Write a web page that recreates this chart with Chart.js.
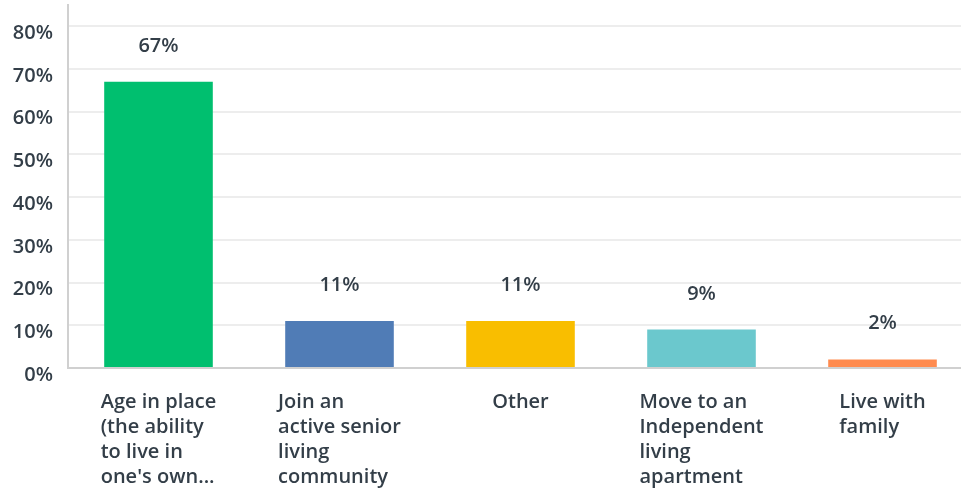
<!DOCTYPE html>
<html><head><meta charset="utf-8">
<script src="https://cdn.jsdelivr.net/npm/chart.js@4/dist/chart.umd.min.js"></script>
<style>
html,body{margin:0;padding:0;background:#fff;overflow:hidden;width:961px;height:495px}
#wrap{position:relative;width:973px;height:495px}
</style></head>
<body>
<div id="wrap"><canvas id="c"></canvas></div>
<script>
const categories = [
  ["Age in place", "(the ability", "to live in", "one's own..."],
  ["Join an", "active senior", "living", "community"],
  ["Other"],
  ["Move to an", "Independent", "living", "apartment"],
  ["Live with", "family"]
];
const values = [67, 11, 11, 9, 2];
const valueLabels = ["67%", "11%", "11%", "9%", "2%"];
const barColors = ["#00BF6F", "#507CB6", "#F9BE00", "#6BC8CD", "#FF8B4F"];
const yTicks = [0, 10, 20, 30, 40, 50, 60, 70, 80];

const TEXT = "#333E48";
const FONT = "'Open Sans', sans-serif";

const labelsPlugin = {
  id: 'customLabels',
  afterDatasetsDraw(chart) {
    const ctx = chart.ctx;
    const meta = chart.getDatasetMeta(0);
    const xs = chart.scales.x;
    ctx.save();
    ctx.fillStyle = TEXT;
    ctx.font = "600 20px " + FONT;
    ctx.textAlign = 'center';
    ctx.textBaseline = 'alphabetic';
    meta.data.forEach((bar, i) => {
      ctx.fillText(valueLabels[i], bar.x, bar.y - 30);
    });
    ctx.textAlign = 'left';
    categories.forEach((lines, i) => {
      const cx = xs.getPixelForValue(i);
      let maxW = 0;
      lines.forEach(l => { maxW = Math.max(maxW, ctx.measureText(l).width); });
      const sx = cx - maxW / 2;
      lines.forEach((l, j) => {
        ctx.fillText(l, sx, chart.chartArea.bottom + 40 + j * 25);
      });
    });
    ctx.restore();
  }
};

new Chart(document.getElementById('c'), {
  type: 'bar',
  data: {
    labels: categories.map(c => c.join(' ')),
    datasets: [{
      data: values,
      backgroundColor: barColors,
      borderWidth: 0,
      categoryPercentage: 1,
      barPercentage: 0.6
    }]
  },
  options: {
    responsive: true,
    maintainAspectRatio: false,
    animation: false,
    layout: { padding: { top: 5, right: 0, left: 0, bottom: 0 } },
    plugins: { legend: { display: false }, tooltip: { enabled: false } },
    scales: {
      x: {
        grid: { display: false },
        border: { color: '#D0D0D0', width: 2 },
        ticks: { display: false },
        afterFit(s) { s.height = 127; s.paddingLeft = 0; s.paddingRight = 0; }
      },
      y: {
        min: 0, max: 85,
        border: { color: '#D0D0D0', width: 2 },
        grid: { color: '#EDEDED', lineWidth: 2, drawTicks: false },
        afterBuildTicks(s) { s.ticks = yTicks.map(v => ({ value: v })); },
        afterFit(s) { s.width = 68; s.paddingTop = 0; s.paddingBottom = 0; },
        ticks: {
          padding: 15,
          labelOffset: 7,
          color: TEXT,
          font: { family: FONT, size: 20, weight: '600' },
          callback: v => v + '%'
        }
      }
    }
  },
  plugins: [labelsPlugin]
});
</script>
</body></html>
